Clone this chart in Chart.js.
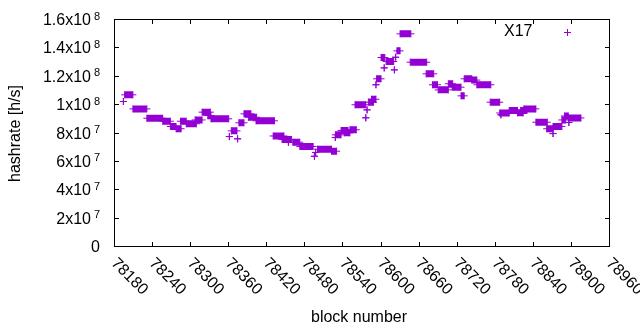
<!DOCTYPE html>
<html>
<head>
<meta charset="utf-8">
<script src="https://cdn.jsdelivr.net/npm/chart.js@4.4.1/dist/chart.umd.min.js"></script>
<style>
  html, body { margin: 0; padding: 0; background: #fff; }
</style>
</head>
<body>
<canvas id="chart" width="640" height="330"></canvas>
<script>
// X17 hashrate estimate, held constant over runs of blocks
const seriesName = 'X17';
const runStart = [78194, 78196, 78209, 78231, 78256, 78268, 78277, 78284, 78293, 78307,
  78318, 78327, 78332, 78361, 78364, 78374, 78376, 78384, 78391, 78403,
  78430, 78444, 78454, 78461, 78472, 78495, 78497, 78500, 78522, 78528,
  78528, 78537, 78542, 78551, 78559, 78576, 78578, 78580, 78585, 78592,
  78593, 78600, 78605, 78608, 78621, 78623, 78625, 78630, 78646, 78671,
  78681, 78690, 78706, 78712, 78726, 78731, 78743, 78751, 78772, 78789,
  78787, 78802, 78815, 78820, 78825, 78844, 78861, 78871, 78871, 78885,
  78889, 78895, 78896];
const runEnd = [78194, 78209, 78231, 78256, 78268, 78277, 78285, 78293, 78309, 78318,
  78331, 78332, 78360, 78361, 78373, 78374, 78384, 78395, 78404, 78432,
  78447, 78459, 78454, 78472, 78493, 78495, 78497, 78522, 78530, 78528,
  78537, 78548, 78551, 78561, 78576, 78576, 78578, 78588, 78592, 78592,
  78600, 78606, 78605, 78620, 78621, 78623, 78630, 78647, 78672, 78683,
  78689, 78706, 78713, 78726, 78731, 78743, 78751, 78773, 78787, 78789,
  78802, 78815, 78824, 78830, 78844, 78862, 78871, 78871, 78885, 78891,
  78895, 78915, 78896];
const runRate = [102.2e6, 106.9e6, 97.0e6, 90.4e6, 88.3e6, 84.6e6, 83.0e6, 88.3e6, 86.5e6, 89.2e6,
  94.7e6, 92.3e6, 90.0e6, 77.5e6, 81.5e6, 75.9e6, 87.2e6, 93.5e6, 91.1e6, 88.6e6,
  77.9e6, 75.4e6, 73.5e6, 73.5e6, 70.5e6, 63.6e6, 66.3e6, 68.6e6, 67.2e6, 76.8e6,
  78.7e6, 81.8e6, 80.1e6, 82.3e6, 99.9e6, 90.7e6, 96.3e6, 101.7e6, 103.8e6, 114.0e6,
  118.2e6, 133.2e6, 125.9e6, 130.4e6, 124.5e6, 133.4e6, 137.9e6, 149.9e6, 129.9e6, 121.7e6,
  114.0e6, 110.4e6, 114.7e6, 112.3e6, 106.2e6, 118.2e6, 117.3e6, 114.0e6, 101.7e6, 92.8e6,
  94.1e6, 95.9e6, 94.2e6, 95.9e6, 97.0e6, 87.6e6, 83.0e6, 79.6e6, 84.6e6, 89.2e6,
  92.0e6, 90.6e6, 87.4e6];

const xTicks = [78180, 78240, 78300, 78360, 78420, 78480, 78540, 78600, 78660, 78720, 78780, 78840, 78900, 78960];
const yTicks = [0, 2e7, 4e7, 6e7, 8e7, 1e8, 1.2e8, 1.4e8, 1.6e8];
const xTitle = 'block number';
const yTitle = 'hashrate [h/s]';

const purple = '#9400d3';
const font = '"Liberation Sans", Arial, sans-serif';

// each run: start point, end point, then a gap
const points = [];
runStart.forEach((s, i) => {
  points.push({ x: s, y: runRate[i] }, { x: runEnd[i], y: runRate[i] }, { x: runEnd[i], y: null });
});

function sciParts(v) {
  const e = Math.floor(Math.log10(v));
  const m = +(v / Math.pow(10, e)).toFixed(1);
  return [m + 'x10', String(e)];
}

const gnuplotFrame = {
  id: 'gnuplotFrame',
  beforeDatasetsDraw(chart) {
    const { ctx, chartArea: a, scales: { x, y } } = chart;
    ctx.save();
    ctx.strokeStyle = '#000';
    ctx.lineWidth = 1;
    ctx.beginPath();
    xTicks.forEach(v => {
      const px = Math.round(x.getPixelForValue(v) - 0.5) + 0.5;
      ctx.moveTo(px, a.bottom); ctx.lineTo(px, a.bottom - 4.5);
      ctx.moveTo(px, a.top); ctx.lineTo(px, a.top + 4.5);
    });
    yTicks.forEach(v => {
      const py = Math.round(y.getPixelForValue(v) - 0.5) + 0.5;
      ctx.moveTo(a.left, py); ctx.lineTo(a.left + 4.5, py);
      ctx.moveTo(a.right, py); ctx.lineTo(a.right - 4.5, py);
    });
    ctx.stroke();
    ctx.strokeRect(a.left, a.top, a.right - a.left, a.bottom - a.top);

    ctx.fillStyle = '#000';
    // y tick labels with superscript exponent
    yTicks.forEach(v => {
      const py = y.getPixelForValue(v);
      ctx.font = '16px ' + font;
      ctx.textAlign = 'right';
      ctx.textBaseline = 'alphabetic';
      if (v === 0) {
        ctx.fillText('0', 100, py + 5.5);
        return;
      }
      const [m, e] = sciParts(v);
      ctx.fillText(m, 91, py + 5.5);
      ctx.font = '11px ' + font;
      ctx.textAlign = 'left';
      ctx.fillText(e, 94, py);
    });
    // x tick labels, rotated 45 degrees downwards
    ctx.font = '16px ' + font;
    ctx.textAlign = 'left';
    ctx.textBaseline = 'alphabetic';
    xTicks.forEach(v => {
      const px = x.getPixelForValue(v);
      ctx.save();
      ctx.translate(px - 4, a.bottom + 17.5);
      ctx.rotate(Math.PI / 4);
      ctx.fillText(String(v), 0, 0);
      ctx.restore();
    });
    // axis titles
    ctx.textAlign = 'center';
    ctx.fillText(xTitle, 359, 321.5);
    ctx.save();
    ctx.translate(16, 133.5);
    ctx.rotate(-Math.PI / 2);
    ctx.textBaseline = 'middle';
    ctx.fillText(yTitle, 0, 0);
    ctx.restore();
    // key
    ctx.textAlign = 'right';
    ctx.textBaseline = 'middle';
    ctx.fillText(chart.data.datasets[0].label, 532.5, 32);
    ctx.strokeStyle = purple;
    ctx.beginPath();
    ctx.moveTo(564, 32.5); ctx.lineTo(571, 32.5);
    ctx.moveTo(567.5, 29); ctx.lineTo(567.5, 36);
    ctx.stroke();
    ctx.restore();
  }
};

new Chart(document.getElementById('chart'), {
  type: 'scatter',
  data: {
    datasets: [{
      label: seriesName,
      data: points,
      showLine: true,
      spanGaps: false,
      borderColor: purple,
      borderWidth: 7,
      borderCapStyle: 'butt',
      pointStyle: 'cross',
      pointRadius: 3.5,
      pointBorderWidth: 1,
      pointBorderColor: purple,
      pointBackgroundColor: purple
    }]
  },
  options: {
    responsive: false,
    animation: false,
    events: [],
    layout: { padding: { left: 114.5, right: 30.5, top: 19.5, bottom: 83.5 } },
    plugins: { legend: { display: false }, tooltip: { enabled: false } },
    scales: {
      x: { type: 'linear', min: 78180, max: 78960, display: false },
      y: { type: 'linear', min: 0, max: 1.6e8, display: false }
    }
  },
  plugins: [gnuplotFrame]
});
</script>
</body>
</html>
